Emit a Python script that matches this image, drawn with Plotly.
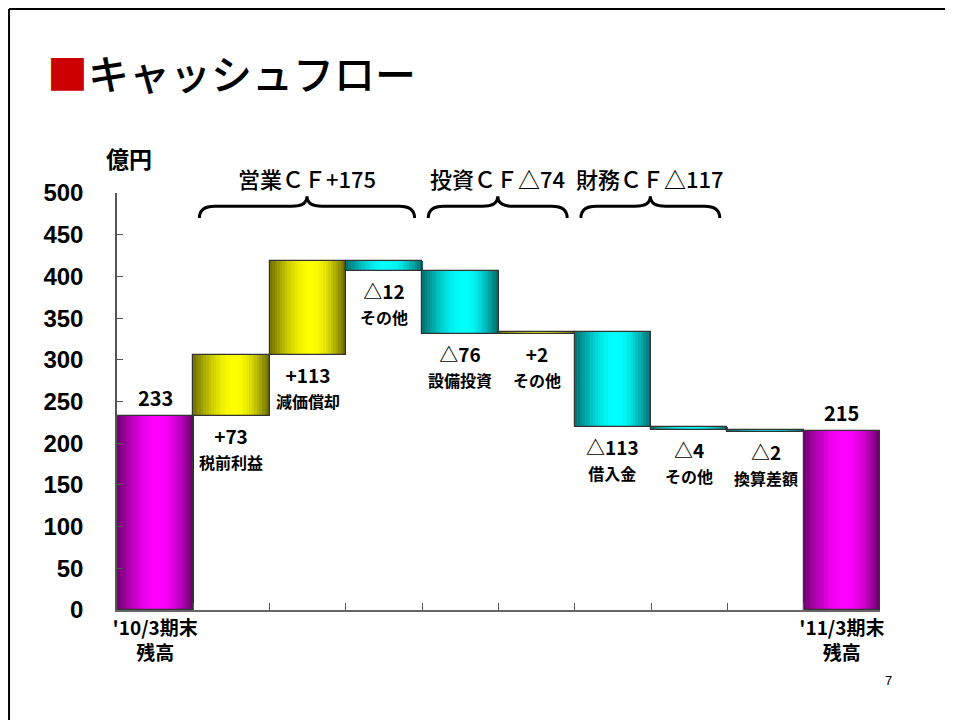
import math
import plotly.graph_objects as go

# ---------------- data ----------------
categories = ["'10/3期末<br>残高", "税前利益", "減価償却", "その他(営業)", "設備投資",
              "その他(投資)", "借入金", "その他(財務)", "換算差額", "'11/3期末<br>残高"]
tick_text = ["'10/3期末<br>残高", "", "", "", "", "", "", "", "", "'11/3期末<br>残高"]
start_balance = 233
end_balance = 215
deltas = [73, 113, -12, -76, 2, -113, -4, -2]
value_labels = ["233", "+73", "+113", "△12", "△76", "+2", "△113", "△4", "△2", "215"]
item_names = ["", "税前利益", "減価償却", "その他", "設備投資", "その他", "借入金", "その他", "換算差額", ""]
groups = [("営業ＣＦ+175", 1, 3), ("投資ＣＦ△74", 4, 5), ("財務ＣＦ△117", 6, 7)]
y_ticks = [0, 50, 100, 150, 200, 250, 300, 350, 400, 450, 500]

# ---------------- derive floating bars ----------------
bases, heights, kinds = [0], [start_balance], ["total"]
level = start_balance
for d in deltas:
    bases.append(level)
    heights.append(d)
    kinds.append("up" if d > 0 else "down")
    level += d
bases.append(0)
heights.append(end_balance)
kinds.append("total")

base_rgb = {"total": (255, 0, 255), "up": (255, 255, 0), "down": (0, 255, 255)}


def shade(t):
    peak = 0.55
    if t < peak:
        lo = 0.44
        return lo + (1 - lo) * math.sin(math.pi / 2 * t / peak)
    lo = 0.40
    return lo + (1 - lo) * math.sin(math.pi / 2 * (1 - t) / (1 - peak))


N = 30
gx, gb, gy, goff, gw, gc = [], [], [], [], [], []
for i, cat in enumerate(categories):
    r, g, b = base_rgb[kinds[i]]
    for k in range(N):
        t = (k + 0.5) / N
        f = shade(t)
        gx.append(cat)
        gb.append(bases[i])
        gy.append(heights[i])
        goff.append(-0.5 + k / N)
        gw.append(1.0 / N + 0.004)
        gc.append(f"rgb({int(r*f)},{int(g*f)},{int(b*f)})")

fig = go.Figure()
fig.add_trace(go.Bar(x=gx, y=gy, base=gb, offset=goff, width=gw,
                     marker=dict(color=gc, line=dict(width=0)),
                     hoverinfo="skip", showlegend=False))
fig.add_trace(go.Bar(x=categories, y=heights, base=bases, width=1, offset=-0.5,
                     marker=dict(color="rgba(0,0,0,0)", line=dict(color="#333333", width=1.2)),
                     showlegend=False))

# ---------------- labels ----------------
annotations = []
for i, cat in enumerate(categories):
    if kinds[i] == "total":
        annotations.append(dict(x=cat, y=bases[i] + heights[i], text=value_labels[i],
                                showarrow=False, yanchor="bottom", yshift=2,
                                font=dict(family="Noto Sans CJK JP", size=20, weight="bold", color="black")))
    else:
        low = min(bases[i], bases[i] + heights[i])
        txt = f"{value_labels[i]}<br><span style='font-size:16px'>{item_names[i]}</span>"
        annotations.append(dict(x=cat, y=low, text=txt, showarrow=False, yanchor="top", yshift=-4,
                                font=dict(family="Noto Sans CJK JP", size=19, weight="bold", color="black")))

shapes = []
for name, a, b in groups:
    x0, x1 = a - 0.5 + 0.08, b + 0.5 - 0.1
    xc = (x0 + x1) / 2
    ylow, ymid, ytop = 470, 484, 496
    rx = 0.2
    path = (f"M {x0},{ylow} Q {x0},{ymid} {x0+rx},{ymid} L {xc-rx},{ymid} "
            f"Q {xc},{ymid} {xc},{ytop} Q {xc},{ymid} {xc+rx},{ymid} "
            f"L {x1-rx},{ymid} Q {x1},{ymid} {x1},{ylow}")
    shapes.append(dict(type="path", path=path, xref="x", yref="y",
                       line=dict(color="black", width=3)))
    annotations.append(dict(x=xc, y=ytop, xref="x", yref="y", text=name, showarrow=False,
                            yanchor="bottom", yshift=0,
                            font=dict(family="Noto Sans CJK JP", size=22, weight=500, color="black")))

# slide frame
shapes.append(dict(type="line", xref="paper", yref="paper", x0=-0.1415, x1=-0.1415, y0=1.441, y1=-0.3,
                   line=dict(color="black", width=2)))
shapes.append(dict(type="line", xref="paper", yref="paper", x0=-0.1415, x1=1.2, y0=1.441, y1=1.441,
                   line=dict(color="black", width=2)))

annotations.append(dict(xref="paper", yref="paper", x=-0.0944, y=1.290, xanchor="left", yanchor="middle",
                        text="<span style='color:#CC0000'>■</span>キャッシュフロー", showarrow=False,
                        font=dict(family="Noto Sans CJK JP", size=41, weight=500, color="black")))
annotations.append(dict(xref="paper", yref="paper", x=0.0157, y=1.084, xanchor="center", yanchor="middle",
                        text="億円", showarrow=False,
                        font=dict(family="Noto Sans CJK JP", size=23, weight="bold", color="black")))
annotations.append(dict(xref="paper", yref="paper", x=1.0105, y=-0.168, xanchor="center", yanchor="middle",
                        text="7", showarrow=False,
                        font=dict(family="Liberation Sans", size=13, color="black")))

fig.update_layout(
    width=945, height=712,
    margin=dict(l=109, r=73, t=185, b=110),
    paper_bgcolor="white", plot_bgcolor="white",
    barmode="overlay", bargap=0,
    annotations=annotations, shapes=shapes,
    xaxis=dict(type="category", categoryorder="array", categoryarray=categories,
               tickmode="array", tickvals=categories, ticktext=tick_text, tickangle=0,
               tickson="boundaries", ticks="inside", ticklen=7, tickcolor="#555555",
               showline=True, linecolor="#666666", linewidth=2, showgrid=False,
               range=[-0.5, 9.5],
               tickfont=dict(family="Noto Sans CJK JP", size=19, weight="bold", color="black")),
    yaxis=dict(range=[0, 500], tickvals=y_ticks, ticks="inside", ticklen=6, tickcolor="#555555",
               showline=True, linecolor="#555555", linewidth=1.5, showgrid=False, zeroline=False,
               ticklabelstandoff=27,
               tickfont=dict(family="Liberation Sans", size=24, weight="bold", color="black")),
)

fig.write_html("out.html")
